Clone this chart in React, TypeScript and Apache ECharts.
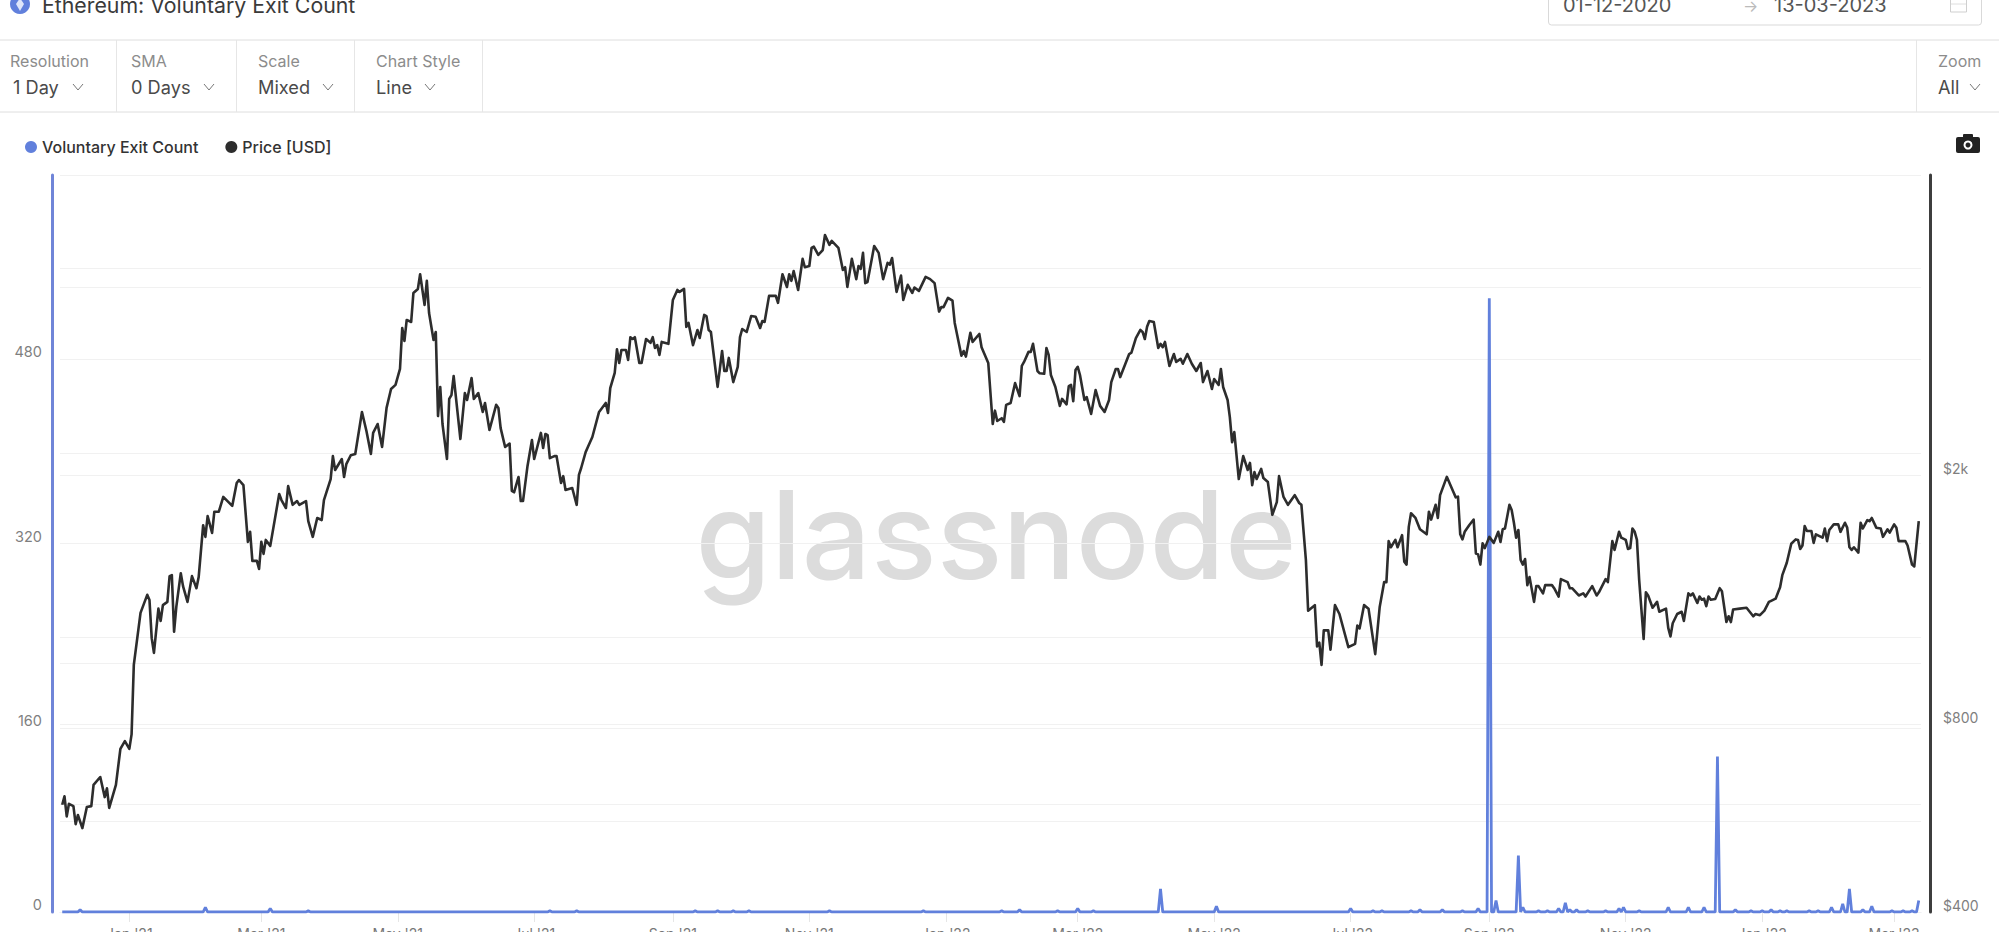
import React, { useEffect, useRef } from "react";
import * as echarts from "echarts";

const title = "Ethereum: Voluntary Exit Count";
const startDateText = "01-12-2020";
const endDateText = "13-03-2023";
const controlLabels = ["Resolution", "SMA", "Scale", "Chart Style"];
const controlValues = ["1 Day", "0 Days", "Mixed", "Line"];
const seriesNames = ["Voluntary Exit Count", "Price [USD]"];

const firstDay = Date.UTC(2020, 11, 1);
const lastDay = Date.UTC(2023, 2, 13);
const monthTicks = [
  [2021, 0], [2021, 2], [2021, 4], [2021, 6], [2021, 8], [2021, 10],
  [2022, 0], [2022, 2], [2022, 4], [2022, 6], [2022, 8], [2022, 10],
  [2023, 0], [2023, 2],
];
const monthNames = ["Jan", "Feb", "Mar", "Apr", "May", "Jun", "Jul", "Aug", "Sep", "Oct", "Nov", "Dec"];

const countTicks = [0, 160, 320, 480];
const priceLabelled = [400, 800, 2000];
const priceGrid = [559, 596, 1000, 1103, 2171, 4000, 4297];

// days since 1 Dec 2020
const priceDays = [
  1,2,3,4,6,7,8,10,12,14,15,18,20,21,22,25,27,29,31,32,33,36,39,40,41,42,44,45,46,48,49,50,51,52,54,55,57,59,61,62,64,65,66,68,69,71,73,77,79,80,82,84,85,86,88,89,90,91,92,94,98,99,101,102,104,106,107,110,111,113,115,117,118,121,122,123,126,127,128,130,132,135,137,139,140,142,144,146,148,150,152,153,154,155,157,158,160,161,163,164,165,167,168,169,170,171,173,174,175,176,177,179,181,182,184,185,187,189,190,192,195,196,197,199,201,202,203,205,206,207,209,211,212,215,
  216,217,218,219,221,222,224,225,226,229,231,232,233,235,236,238,241,244,245,246,248,249,250,251,253,254,255,256,257,259,260,262,264,265,266,267,268,269,272,274,276,277,279,280,281,283,285,286,288,289,290,291,294,296,297,298,299,301,303,304,305,307,309,311,313,314,315,317,320,321,323,325,326,327,328,330,332,333,335,336,337,339,341,342,344,345,348,350,351,352,354,356,357,358,359,360,361,364,366,368,370,371,372,374,376,377,379,381,382,384,387,389,391,393,394,395,397,399,400,403,404,405,407,408,411,412,415,417,418,419,421,422,423,425,427,429,430,431,433,434,435,437,438,
  440,441,442,443,445,447,448,450,451,452,453,454,455,456,458,459,461,463,465,467,469,470,472,473,474,478,479,481,483,484,485,486,487,489,491,492,493,494,496,498,499,501,502,504,506,508,510,511,513,515,516,518,519,520,522,523,524,525,527,529,531,532,533,534,535,537,538,540,542,544,545,547,549,552,554,555,557,558,561,562,563,564,565,567,568,570,572,576,579,580,581,583,585,588,590,592,593,594,595,597,598,600,601,602,603,604,606,608,611,612,613,615,616,617,620,623,624,625,626,627,628,630,632,633,634,635,636,637,639,641,643,644,645,646,648,649,650,651,652,653,654,655,656,657,
  659,660,661,663,664,667,668,670,671,674,675,676,679,681,682,685,687,688,691,692,694,695,697,698,700,701,702,703,704,705,706,708,709,710,712,714,715,718,719,720,721,723,725,726,728,729,730,732,733,734,735,736,737,738,740,742,743,745,746,747,748,751,754,757,758,760,762,764,765,767,769,770,772,774,776,777,778,779,780,781,783,784,785,788,789,790,791,793,795,796,798,799,800,801,802,804,805,806,808,809,810,812,814,815,817,818,820,821,822,825,826,828,829,831,
];
const priceValues = [
  594,613,569,596,591,553,572,545,589,591,639,658,611,631,587,639,730,751,730,770,995,1205,1288,1264,1098,1040,1224,1170,1240,1255,1380,1385,1124,1232,1395,1330,1255,1380,1320,1375,1665,1595,1722,1618,1750,1750,1848,1788,1945,1967,1930,1566,1625,1460,1460,1417,1566,1498,1577,1543,1868,1827,1774,1923,1795,1820,1795,1820,1690,1595,1710,1697,1827,1974,2148,2041,2125,1989,2085,2155,2165,2528,2356,2165,2340,2418,2222,2566,2751,2793,2962,3445,3284,3549,3522,3920,3979,4200,3750,4100,3640,3296,3395,2490,2772,2418,2125,2652,2690,2886,2670,2288,2710,2642,2865,2652,2710,2528,2613,2365,2595,2566,2382,2222,2250,1890,1880,1989,1820,1820,2070,2279,2125,2340,
  2213,2331,2320,2132,2148,2148,1945,1995,1896,1910,1795,2004,2056,2180,2222,2305,2528,2613,2519,2760,2920,3185,3028,3177,3177,3062,3330,3308,3330,3028,3028,3308,3262,3330,3200,3234,3120,3273,3250,3821,3964,3935,3979,3460,3510,3234,3420,3320,3615,3600,3420,3395,2772,3165,2940,2940,3085,2822,2985,3330,3432,3395,3600,3590,3445,3535,3522,3878,3878,3780,4200,4008,4200,4100,4250,3964,4445,4310,4330,4630,4650,4510,4592,4855,4680,4750,4630,4266,4310,4008,4445,4125,4330,4285,4545,4065,4080,4660,4545,4125,4380,4350,4460,3935,4180,3821,4040,3920,4000,3950,4160,4125,4065,3660,3720,3720,3850,3810,3510,3110,3165,3100,3385,3273,3370,3210,3028,2418,2540,2445,2470,2437,2595,2613,2812,2680,2995,3040,3155,3155,3250,2940,2915,
  2910,3200,3120,2897,2772,2585,2652,2600,2780,2793,2630,2951,2985,2897,2642,2670,2510,2741,2585,2528,2642,2822,2962,2962,2875,3130,3145,3320,3420,3395,3308,3460,3535,3522,3200,3250,3210,3273,2995,3130,3040,3075,3020,3130,3020,2940,3028,2822,2940,2751,2855,2793,2962,2772,2642,2480,2262,2347,1974,2148,2041,2095,1930,2025,1974,2049,1981,1952,1730,1813,1995,1848,1795,1860,1807,1795,1465,1215,1240,1065,1080,995,1130,1130,1052,1240,1200,1062,1075,1150,1138,1240,1224,1035,1232,1350,1350,1570,1535,1577,1535,1605,1455,1440,1655,1740,1710,1640,1610,1750,1700,1795,1710,1860,1990,1880,1845,1850,1610,1580,1625,1665,1700,1500,1495,1440,1557,1530,1595,1560,1625,1565,1640,1645,1795,1761,1680,1590,1636,1465,1440,1470,1335,1375,
  1255,1330,1330,1295,1335,1335,1320,1280,1365,1350,1320,1320,1285,1295,1280,1330,1285,1300,1365,1350,1570,1520,1625,1590,1577,1525,1530,1645,1625,1577,1361,1095,1300,1285,1228,1255,1210,1224,1140,1105,1160,1200,1210,1170,1295,1285,1295,1250,1280,1265,1270,1235,1280,1265,1268,1320,1305,1165,1190,1165,1220,1224,1228,1190,1200,1195,1215,1255,1260,1270,1325,1385,1450,1555,1580,1577,1525,1545,1660,1630,1630,1560,1610,1590,1645,1570,1636,1670,1670,1625,1680,1650,1535,1520,1535,1505,1680,1645,1697,1690,1710,1650,1645,1595,1640,1620,1670,1650,1570,1570,1545,1440,1430,1690,
];

const exitDays = [9,65,94,111,219,231,284,294,301,308,344,386,421,429,446,455,462,492,517,577,587,591,604,608,618,627,634,639,642,652,654,661,665,670,673,675,678,683,691,697,699,706,719,728,735,741,749,756,761,765,769,772,782,786,792,797,800,806,810,819,824,828,831];
const exitCounts = [2,4,3,1,1,1,1,1,1,1,1,1,1,2,1,3,1,20,5,3,1,1,1,2,2,1,3,533,10,49,4,1,1,3,8,2,2,1,1,3,4,1,4,4,4,135,2,1,1,2,1,1,1,1,4,7,20,2,5,1,1,1,10];

const dayMs = 86400000;
const pricePoints = priceDays.map((d, i) => [firstDay + d * dayMs, priceValues[i]]);
const exitPoints: number[][] = [];
for (let d = 1; d <= 831; d++) {
  const k = exitDays.indexOf(d);
  exitPoints.push([firstDay + d * dayMs, k >= 0 ? exitCounts[k] : 0]);
}

const FONT = "Inter, 'Noto Sans', sans-serif";
const GRID_TOP = 175;
const GRID_BOTTOM_Y = 912;
const GRID_LEFT = 60;
const GRID_RIGHT_X = 1921;

function priceLabelText(v: number) {
  return v >= 1000 ? `$${v / 1000}k` : `$${v}`;
}

function text(str: string, x: number, y: number, size: number, fill: string, weight = 400) {
  return {
    type: "text",
    silent: true,
    style: { text: str, x, y, fill, font: `${weight} ${size}px ${FONT}`, textVerticalAlign: "middle" },
  };
}
function hline(x1: number, x2: number, y: number) {
  return { type: "line", silent: true, shape: { x1, y1: y, x2, y2: y }, style: { stroke: "#dedede", lineWidth: 1 } };
}
function vline(x: number, y1: number, y2: number) {
  return { type: "line", silent: true, shape: { x1: x, y1, x2: x, y2 }, style: { stroke: "#e6e6e6", lineWidth: 1 } };
}
function chevron(x: number, y: number) {
  return {
    type: "polyline",
    silent: true,
    shape: { points: [[x - 5, y - 3], [x, y + 3], [x + 5, y - 3]] },
    style: { stroke: "#777", lineWidth: 1, fill: "none" },
  };
}

const controlX = [10, 131, 258, 376];
const valueX = [13, 131, 258, 376];
const chevronX = [78, 209, 328, 430];
const separatorX = [116, 236, 354, 482, 1916];

const headerGraphics: any[] = [
  { type: "circle", silent: true, shape: { cx: 20, cy: 4, r: 10 }, style: { fill: "#6180dc" } },
  { type: "polygon", silent: true, shape: { points: [[20, -2], [24, 4], [20, 11], [16, 4]] }, style: { fill: "#dfe6fa" } },
  text(title, 42, 5, 21.3, "#3a3a3a"),
  { type: "rect", silent: true, shape: { x: 1548.5, y: -6, width: 433, height: 31, r: 3 }, style: { fill: "#fff", stroke: "#d9d9d9", lineWidth: 1 } },
  text(startDateText, 1563, 5, 20, "#555"),
  text("→", 1743, 6, 16, "#bbb"),
  text(endDateText, 1774, 5, 20, "#555"),
  { type: "rect", silent: true, shape: { x: 1950.5, y: -4, width: 16, height: 16 }, style: { fill: "none", stroke: "#cfcfcf", lineWidth: 1 } },
  hline(1951, 1966, 4),
  hline(0, 1999, 40),
  hline(0, 1999, 112),
  ...separatorX.map((x) => vline(x + 0.5, 40, 112)),
  ...controlLabels.map((s, i) => text(s, controlX[i], 61, 16, "#8c8c8c")),
  ...controlValues.map((s, i) => text(s, valueX[i], 87, 18.2, "#4a4a4a")),
  ...chevronX.map((x) => chevron(x, 87)),
  text("Zoom", 1938, 61, 16, "#8c8c8c"),
  text("All", 1938, 87, 18.2, "#4a4a4a"),
  chevron(1975, 87),
  { type: "rect", silent: true, shape: { x: 1956, y: 137, width: 24, height: 16, r: 2 }, style: { fill: "#222" } },
  { type: "rect", silent: true, shape: { x: 1963, y: 134, width: 10, height: 5, r: 1 }, style: { fill: "#222" } },
  { type: "circle", silent: true, shape: { cx: 1968, cy: 145, r: 3.5 }, style: { fill: "#222", stroke: "#fff", lineWidth: 2 } },
  {
    type: "text",
    silent: true,
    z: -1,
    style: { text: "glassnode", x: 996, y: 595, fill: "#dcdcdc", font: `500 122px ${FONT}`, textAlign: "center", textVerticalAlign: "bottom" },
  },
];

const monthTickValues = monthTicks.map(([y, m]) => Date.UTC(y, m, 1));

export default function App() {
  const ref = useRef<HTMLDivElement>(null);
  useEffect(() => {
    const chart = echarts.init(ref.current!, undefined, { renderer: "svg" });
    chart.setOption({
      animation: false,
      backgroundColor: "#fff",
      textStyle: { fontFamily: FONT },
      grid: {
        left: GRID_LEFT,
        right: 1999 - GRID_RIGHT_X,
        top: GRID_TOP,
        bottom: 932 - GRID_BOTTOM_Y,
        containLabel: false,
        outerBoundsMode: "none",
      },
      legend: {
        left: 20,
        top: 134,
        selectedMode: false,
        itemWidth: 12,
        itemHeight: 12,
        itemGap: 27,
        icon: "circle",
        data: seriesNames,
        textStyle: { fontSize: 16, fontWeight: 500, color: "#333", fontFamily: FONT },
      },
      xAxis: {
        type: "value",
        min: firstDay,
        max: lastDay,
        axisLine: { show: true, onZero: false, lineStyle: { color: "#e4e7f2", width: 1 } },
        axisTick: {
          show: true,
          length: 10,
          lineStyle: { color: "#e6e6e6" },
          customValues: monthTickValues,
        },
        axisLabel: {
          customValues: monthTickValues,
          margin: 14,
          fontSize: 14,
          color: "#777",
          fontFamily: FONT,
          showMinLabel: true,
          showMaxLabel: true,
          formatter: (v: number) => {
            const d = new Date(v);
            return `${monthNames[d.getUTCMonth()]} '${String(d.getUTCFullYear()).slice(2)}`;
          },
        },
        splitLine: { show: false },
      },
      yAxis: [
        {
          type: "value",
          position: "left",
          min: 0,
          max: 640,
          interval: 160,
          offset: 8,
          axisLine: { show: true, lineStyle: { color: "#7085d8", width: 3 } },
          axisTick: { show: false },
          axisLabel: {
            customValues: countTicks,
            margin: 10,
            fontSize: 14.5,
            color: "#7f7f7f",
            verticalAlign: "bottom",
            fontFamily: FONT,
          },
          splitLine: { show: true, lineStyle: { color: "#f1f1f1", width: 1 } },
        },
        {
          type: "log",
          position: "right",
          min: 400,
          max: 6056,
          offset: 9,
          axisLine: { show: true, onZero: false, lineStyle: { color: "#3d3d3d", width: 3 } },
          axisTick: { show: false },
          axisLabel: { show: false },
          splitLine: { show: false },
        },
      ],
      graphic: { elements: headerGraphics },
      series: [
        {
          name: seriesNames[0],
          type: "line",
          yAxisIndex: 0,
          z: 3,
          showSymbol: false,
          symbol: "none",
          data: exitPoints,
          itemStyle: { color: "#6180dc" },
          lineStyle: { color: "#6180dc", width: 2.8 },
        },
        {
          name: seriesNames[1],
          type: "line",
          yAxisIndex: 1,
          z: 4,
          showSymbol: false,
          symbol: "none",
          data: pricePoints,
          itemStyle: { color: "#2d2d2d" },
          lineStyle: { color: "#2d2d2d", width: 2.6, join: "round" },
          markLine: {
            silent: true,
            symbol: "none",
            animation: false,
            precision: 6,
            z: 1,
            lineStyle: { color: "#f1f1f1", width: 1, type: "solid" },
            label: { show: false },
            data: [
              ...priceGrid.map((v) => ({ yAxis: v })),
              ...priceLabelled.map((v) => ({
                yAxis: v,
                label: {
                  show: true,
                  position: "end",
                  distance: 22,
                  formatter: priceLabelText(v),
                  fontSize: 14,
                  color: "#7f7f7f",
                  verticalAlign: "bottom",
                  fontFamily: FONT,
                },
              })),
            ],
          },
        },
      ],
    });
    return () => chart.dispose();
  }, []);
  return (
    <div
      ref={ref}
      style={{ position: "fixed", left: 0, top: 0, width: 1999, height: 932, overflow: "hidden", background: "#fff" }}
    />
  );
}
